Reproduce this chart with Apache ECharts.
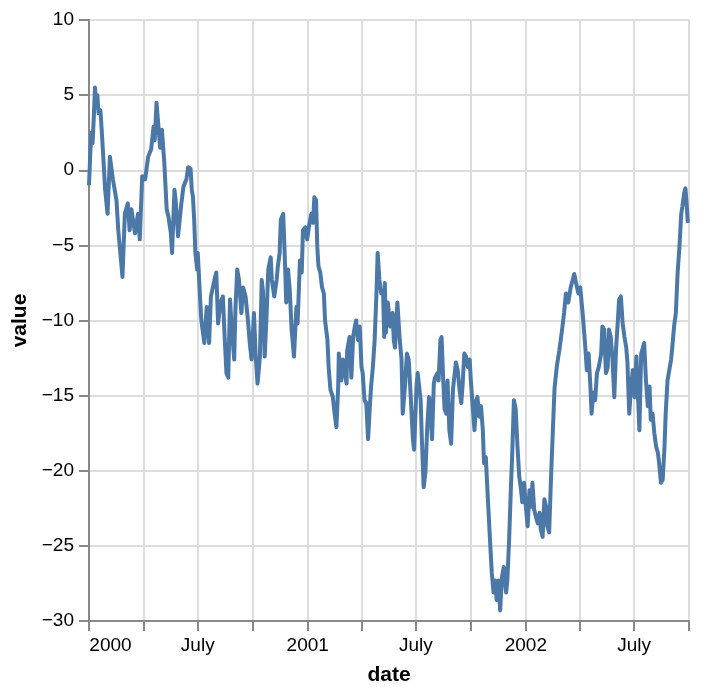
<!DOCTYPE html>
<html>
<head>
<meta charset="utf-8">
<script src="https://cdn.jsdelivr.net/npm/echarts@6/dist/echarts.min.js"></script>
<style>
  html, body { margin: 0; padding: 0; background: #fff; }
  #main { width: 702px; height: 694px; }
</style>
</head>
<body>
<div id="main"></div>
<script>
(function () {
    'use strict';

    // day offsets from 2000-01-01 and the value read at that day
    var startDate = [2000, 0, 1];
    var endDate = [2002, 9, 1];
    var days = [
        0, 2, 4, 6, 8, 10, 12, 14, 16, 19, 20, 23, 27, 31, 35, 37, 40, 46, 49, 54,
        56, 60, 65, 68, 71, 77, 82, 85, 89, 94, 99, 104, 108, 110, 113, 116, 119, 122, 126, 130,
        133, 137, 139, 143, 145, 149, 154, 158, 163, 166, 170, 172, 174, 176, 178, 181, 182, 186, 188, 193,
        197, 201, 204, 211, 213, 216, 220, 224, 227, 230, 233, 236, 239, 243, 245, 248, 251, 255, 258, 262,
        266, 269, 272, 276, 279, 282, 286, 289, 291, 294, 297, 300, 304, 306, 310, 314, 316, 319, 321, 325,
        328, 330, 333, 336, 339, 343, 347, 349, 353, 356, 358, 362, 365, 369, 372, 375, 377, 380, 382, 384,
        387, 390, 393, 395, 399, 401, 404, 408, 411, 414, 417, 418, 422, 425, 428, 431, 432, 436, 439, 442,
        444, 447, 450, 453, 456, 458, 461, 464, 467, 470, 472, 475, 478, 481, 483, 486, 489, 492, 494, 495,
        497, 499, 500, 504, 508, 510, 512, 516, 520, 523, 525, 529, 532, 535, 538, 542, 544, 548, 550, 555,
        557, 560, 563, 566, 569, 571, 574, 577, 579, 583, 585, 588, 590, 593, 595, 598, 600, 603, 606, 609,
        612, 614, 617, 620, 623, 625, 628, 631, 634, 637, 639, 642, 645, 648, 650, 653, 656, 659, 661, 664,
        667, 671, 674, 677, 680, 682, 685, 688, 691, 694, 698, 700, 703, 706, 708, 711, 714, 717, 720, 723,
        725, 728, 731, 734, 737, 740, 742, 745, 748, 751, 754, 756, 759, 762, 765, 767, 770, 773, 776, 779,
        783, 787, 791, 795, 798, 802, 806, 812, 815, 819, 822, 826, 830, 833, 836, 839, 841, 844, 847, 850,
        853, 857, 859, 862, 865, 868, 870, 873, 876, 879, 882, 885, 887, 890, 893, 896, 899, 901, 904, 907,
        910, 913, 916, 918, 921, 924, 927, 929, 932, 935, 938, 940, 943, 946, 949, 952, 954, 957, 960, 963,
        965, 968, 971, 974, 976, 979, 982, 985, 988, 991, 993, 996, 998, 1000, 1002
    ];
    var values = [
        -1.0, 1.0, 2.5, 1.8, 3.5, 5.5, 4.2, 5.0, 3.8, 4.0, 3.5, 1.5, -1.3, -2.9, 0.9, 0.3, -0.6, -2.0, -4.0, -6.2,
        -7.1, -2.9, -2.2, -4.0, -2.6, -4.2, -2.9, -4.6, -0.4, -0.6, 0.9, 1.4, 2.9, 2.0, 4.5, 4.6, 1.5, 2.7, 0.5, -2.6,
        -3.1, -4.2, -5.5, -1.3, -2.0, -4.4, -2.4, -1.1, -0.6, 0.2, 0.1, -1.3, -1.8, -3.3, -5.5, -6.6, -5.5, -8.6, -10.0, -11.5,
        -9.1, -11.5, -8.4, -7.1, -6.8, -10.2, -8.8, -8.4, -11.1, -13.5, -13.8, -8.6, -10.6, -12.6, -9.3, -6.6, -7.3, -9.5, -7.8, -8.4,
        -10.0, -11.5, -12.6, -9.5, -12.4, -14.2, -12.4, -7.3, -8.0, -12.4, -9.8, -6.6, -5.8, -7.3, -8.4, -7.3, -6.4, -5.5, -3.3, -2.9,
        -6.2, -8.8, -6.6, -8.0, -10.6, -12.4, -9.1, -10.2, -6.0, -6.8, -4.0, -3.8, -4.6, -3.5, -2.9, -3.5, -1.8, -2.0, -5.1, -6.4,
        -6.8, -7.8, -8.2, -10.0, -11.3, -13.1, -14.6, -15.1, -16.2, -17.1, -14.4, -12.2, -14.0, -12.6, -13.5, -14.2, -12.0, -11.1, -13.8, -11.1,
        -10.6, -10.0, -11.3, -10.4, -13.1, -13.5, -15.3, -15.5, -17.9, -15.7, -14.4, -13.1, -11.3, -8.2, -5.5, -7.3, -8.2, -8.0, -11.1, -7.5,
        -10.8, -9.1, -8.8, -10.4, -9.5, -11.3, -11.8, -8.8, -11.3, -12.6, -16.2, -14.2, -12.2, -12.6, -14.8, -17.9, -18.6, -14.4, -13.5, -15.3,
        -17.9, -21.1, -20.1, -17.1, -15.1, -15.7, -17.9, -14.2, -13.8, -13.5, -14.0, -11.3, -11.1, -14.2, -15.9, -16.2, -14.0, -17.3, -18.2, -14.6,
        -13.5, -12.8, -13.3, -14.6, -15.5, -14.4, -12.2, -12.4, -13.1, -12.6, -14.0, -15.7, -17.3, -15.3, -15.1, -16.4, -15.7, -17.3, -19.5, -19.1,
        -21.5, -24.6, -26.8, -28.1, -27.3, -28.6, -27.3, -29.3, -27.1, -26.4, -28.1, -27.3, -24.6, -21.1, -19.1, -15.3, -15.9, -18.4, -20.4, -21.3,
        -22.1, -20.8, -22.4, -23.7, -21.3, -22.4, -20.8, -22.6, -23.1, -23.5, -22.8, -23.9, -24.4, -21.9, -22.4, -23.7, -24.1, -20.6, -17.5, -14.5,
        -13.0, -12.0, -10.8, -9.5, -8.2, -8.8, -7.8, -6.9, -7.5, -8.2, -7.8, -9.5, -11.5, -13.3, -12.2, -14.4, -16.2, -14.8, -15.3, -13.5,
        -13.1, -12.2, -10.4, -10.6, -13.5, -13.1, -10.6, -11.1, -12.6, -15.1, -11.8, -10.0, -8.6, -8.4, -10.2, -11.1, -11.8, -12.8, -16.2, -14.4,
        -13.3, -15.1, -12.4, -14.4, -17.3, -12.2, -11.8, -11.5, -14.0, -15.7, -14.4, -16.6, -16.2, -17.5, -18.4, -18.8, -19.5, -20.8, -20.6, -18.4,
        -16.2, -14.0, -13.3, -12.6, -11.8, -10.4, -9.5, -6.8, -5.1, -2.9, -2.4, -1.5, -1.2, -2.2, -3.5
    ];
    var yMin = -30, yMax = 10, yStep = 5;

    var DAY = 24 * 3600 * 1000;
    var t0 = new Date(startDate[0], startDate[1], startDate[2]).getTime();
    var t1 = new Date(endDate[0], endDate[1], endDate[2]).getTime();
    var points = days.map(function (d, i) {
        return [t0 + d * DAY, values[i]];
    });

    var font = 'Liberation Sans, Arial, Helvetica, sans-serif';
    var myChart = echarts.init(document.getElementById('main'), null, { renderer: 'canvas' });

    var option = {
        animation: false,
        backgroundColor: '#fff',
        grid: {
            left: 89,
            right: 13,
            top: 20,
            bottom: 73,
            containLabel: false,
            outerBoundsMode: 'none'
        },
        xAxis: {
            type: 'time',
            min: t0,
            max: t1,
            splitNumber: 11,
            name: 'date',
            nameLocation: 'middle',
            nameGap: 44,
            nameTextStyle: { fontFamily: font, fontSize: 21, fontWeight: 'bold', color: '#000' },
            axisLine: { show: true, onZero: false, lineStyle: { color: '#888', width: 2 } },
            axisTick: { show: true, length: 10, lineStyle: { color: '#888', width: 2 } },
            splitLine: { show: true, lineStyle: { color: '#ddd', width: 2 } },
            minorTick: { show: false },
            axisLabel: {
                margin: 15,
                fontFamily: font,
                fontSize: 19,
                color: '#000',
                hideOverlap: false,
                formatter: function (value) {
                    var d = new Date(value);
                    if (value === t0) return '{first|' + d.getFullYear() + '}';
                    if (d.getMonth() === 0 && d.getDate() === 1) return String(d.getFullYear());
                    if (d.getMonth() === 6 && d.getDate() === 1) return 'July';
                    return '';
                },
                rich: {
                    first: {
                        fontFamily: font,
                        fontSize: 19,
                        color: '#000',
                        padding: [0, 0, 0, 43]
                    }
                }
            }
        },
        yAxis: {
            type: 'value',
            min: yMin,
            max: yMax,
            interval: yStep,
            name: 'value',
            nameLocation: 'middle',
            nameGap: 50,
            nameTextStyle: { fontFamily: font, fontSize: 21, fontWeight: 'bold', color: '#000' },
            axisLine: { show: true, lineStyle: { color: '#888', width: 2 } },
            axisTick: { show: true, length: 10, lineStyle: { color: '#888', width: 2 } },
            splitLine: { show: true, lineStyle: { color: '#ddd', width: 2 } },
            axisLabel: {
                margin: 15,
                fontFamily: font,
                fontSize: 19,
                color: '#000',
                formatter: function (v) {
                    return v < 0 ? '\u2212' + Math.abs(v) : String(v);
                }
            }
        },
        series: [{
            type: 'line',
            data: points,
            showSymbol: false,
            sampling: null,
            lineStyle: { color: '#4c78a8', width: 4, join: 'round' },
            emphasis: { disabled: true }
        }]
    };
    myChart.setOption(option, true);
}());
</script>
</body>
</html>
